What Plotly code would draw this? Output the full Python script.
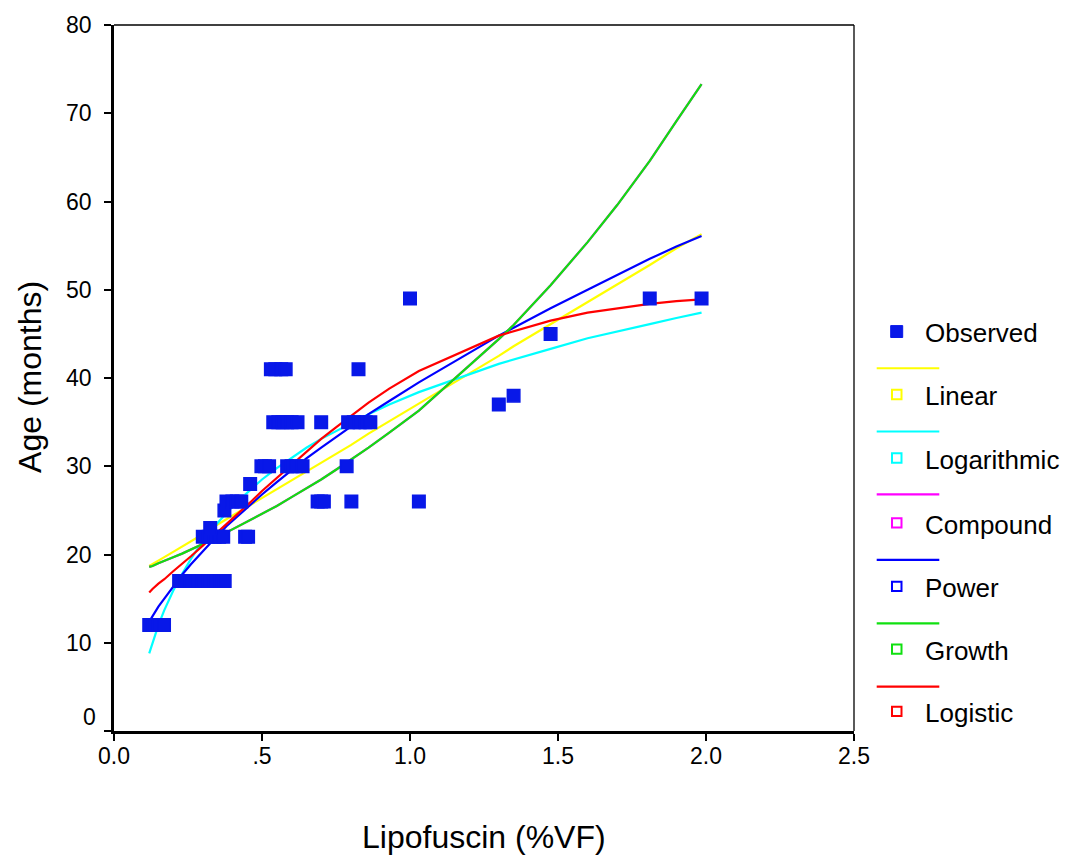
import plotly.graph_objects as go

# ---------------- data ----------------
obs_x = [0.119, 0.135, 0.152, 0.169,
         0.22, 0.24, 0.26, 0.28, 0.30, 0.32, 0.34, 0.36, 0.374,
         0.30, 0.32, 0.34, 0.355, 0.369, 0.443, 0.453,
         0.325,
         0.373,
         0.38, 0.40, 0.415, 0.43, 0.688, 0.70, 0.709, 0.802, 1.03,
         0.46,
         0.498, 0.51, 0.524, 0.585, 0.60, 0.615, 0.637, 0.786,
         0.538, 0.555, 0.57, 0.585, 0.60, 0.62, 0.70, 0.791, 0.81, 0.83, 0.85, 0.866,
         1.30,
         1.35,
         0.53, 0.545, 0.565, 0.58, 0.826,
         1.475,
         1.0, 1.81, 1.985]
obs_age = [12, 12, 12, 12,
           17, 17, 17, 17, 17, 17, 17, 17, 17,
           22, 22, 22, 22, 22, 22, 22,
           23,
           25,
           26, 26, 26, 26, 26, 26, 26, 26, 26,
           28,
           30, 30, 30, 30, 30, 30, 30, 30,
           35, 35, 35, 35, 35, 35, 35, 35, 35, 35, 35, 35,
           37,
           38,
           41, 41, 41, 41, 41,
           45,
           49, 49, 49]

fit_x = [0.119, 0.13, 0.15, 0.17, 0.2, 0.23, 0.26, 0.3, 0.34, 0.38, 0.42, 0.46,
         0.5, 0.55, 0.6, 0.65, 0.7, 0.75, 0.8, 0.86, 0.93, 1.0, 1.03, 1.3, 1.35,
         1.475, 1.6, 1.7, 1.81, 1.9, 1.985]
linear = [18.7, 18.9, 19.3, 19.7, 20.3, 20.9, 21.5, 22.3, 23.2, 24.0, 24.8, 25.6,
          26.4, 27.4, 28.4, 29.4, 30.4, 31.4, 32.4, 33.7, 35.1, 36.5, 37.1, 42.5, 43.6,
          46.1, 48.6, 50.6, 52.8, 54.7, 56.3]
logarithmic = [8.8, 10.0, 12.0, 13.7, 15.9, 17.8, 19.5, 21.5, 23.2, 24.7, 26.1, 27.3,
               28.5, 29.8, 31.0, 32.1, 33.1, 34.0, 34.9, 35.9, 37.0, 38.0, 38.4, 41.6, 42.1,
               43.3, 44.5, 45.3, 46.1, 46.8, 47.4]
compound = [18.6, 18.7, 19.0, 19.3, 19.7, 20.1, 20.6, 21.2, 21.8, 22.5, 23.2, 23.9,
            24.6, 25.5, 26.5, 27.5, 28.5, 29.6, 30.7, 32.1, 33.8, 35.5, 36.3, 44.4, 46.0,
            50.5, 55.4, 59.6, 64.6, 69.1, 73.3]
power = [12.4, 13.0, 14.1, 15.0, 16.4, 17.7, 18.9, 20.4, 21.8, 23.2, 24.4, 25.7,
         26.8, 28.2, 29.6, 30.9, 32.1, 33.3, 34.5, 35.9, 37.4, 38.9, 39.5, 44.8, 45.7,
         47.9, 50.0, 51.7, 53.5, 54.9, 56.1]
growth = [18.6, 18.7, 19.0, 19.3, 19.7, 20.1, 20.6, 21.2, 21.8, 22.5, 23.2, 23.9,
          24.6, 25.5, 26.5, 27.5, 28.5, 29.6, 30.7, 32.1, 33.8, 35.5, 36.3, 44.4, 46.0,
          50.5, 55.4, 59.6, 64.6, 69.1, 73.3]
logistic = [15.7, 16.1, 16.7, 17.2, 18.1, 18.9, 19.8, 21.0, 22.2, 23.5, 24.7, 25.9,
            27.2, 28.7, 30.2, 31.7, 33.1, 34.4, 35.7, 37.2, 38.8, 40.2, 40.8, 44.8, 45.3,
            46.5, 47.4, 47.9, 48.4, 48.7, 48.9]

x_tickvals = [0.0, 0.5, 1.0, 1.5, 2.0, 2.5]
x_ticktext = ["0.0", ".5", "1.0", "1.5", "2.0", "2.5"]
y_tickvals = [0, 10, 20, 30, 40, 50, 60, 70, 80]

series_names = ["Linear", "Logarithmic", "Compound", "Power", "Growth", "Logistic"]
series_values = [linear, logarithmic, compound, power, growth, logistic]
series_colors = ["#ffff00", "#00ffff", "#ff00ff", "#0000ff", "#10e010", "#ff0000"]

FONT = "Liberation Sans, Arial, Helvetica, sans-serif"
W, H = 1067, 855
L, R, T, B = 114, 854, 19.5, 730.7  # plot area in pixels

def px2x(p):
    return (p - L) / (R - L)

def py2y(p):
    return (B - p) / (B - T)

fig = go.Figure()

for name, vals, col in zip(series_names, series_values, series_colors):
    fig.add_trace(go.Scatter(x=fit_x, y=vals, mode="lines", name=name,
                             line=dict(color=col, width=2.2), showlegend=False,
                             hoverinfo="skip"))

fig.add_trace(go.Scatter(x=obs_x, y=obs_age, mode="markers", name="Observed",
                         marker=dict(symbol="square", size=12.5, color="#0818e8",
                                     line=dict(color="#0818e8", width=1.5)),
                         showlegend=False))

shapes = []
annotations = []

# frame: top and right thin lines
shapes.append(dict(type="line", xref="paper", yref="paper", x0=0, x1=1, y0=1, y1=1,
                   line=dict(color="black", width=1.3)))
shapes.append(dict(type="line", xref="paper", yref="paper", x0=1, x1=1, y0=0, y1=1,
                   line=dict(color="black", width=1.3)))

# custom SPSS-style legend
lx_text = 923
annotations.append(dict(xref="paper", yref="paper", x=px2x(lx_text), y=py2y(329.5),
                        text="Observed", showarrow=False, xanchor="left", yanchor="middle",
                        font=dict(family=FONT, size=26, color="black")))
shapes.append(dict(type="rect", xref="paper", yref="paper",
                   x0=px2x(890.7), x1=px2x(902.7), y0=py2y(334.3), y1=py2y(322.3),
                   fillcolor="#0818e8", line=dict(color="#0818e8", width=1)))
line_y = [365.3, 429, 492.3, 558.3, 622.3, 686]
sq_y = [391.7, 455.7, 521, 585, 648.3, 711]
for name, col, ly, sy in zip(series_names, series_colors, line_y, sq_y):
    shapes.append(dict(type="line", xref="paper", yref="paper",
                       x0=px2x(876.7), x1=px2x(939.3), y0=py2y(ly), y1=py2y(ly),
                       line=dict(color=col, width=2.2)))
    shapes.append(dict(type="rect", xref="paper", yref="paper",
                       x0=px2x(892), x1=px2x(901.5), y0=py2y(sy + 4.7), y1=py2y(sy - 4.7),
                       fillcolor="white", line=dict(color=col, width=2)))
    annotations.append(dict(xref="paper", yref="paper", x=px2x(lx_text), y=py2y(sy + 1.8),
                            text=name, showarrow=False, xanchor="left", yanchor="middle",
                            font=dict(family=FONT, size=26, color="black")))

# raised "0" y tick label (as in the reference)
annotations.append(dict(xref="paper", yref="paper", x=px2x(97.5), y=py2y(716.7),
                        text="0", showarrow=False, xanchor="right", yanchor="middle",
                        font=dict(family=FONT, size=23, color="black")))

# axis titles
annotations.append(dict(xref="paper", yref="paper", x=px2x(484), y=py2y(837),
                        text="Lipofuscin (%VF)", showarrow=False, xanchor="center",
                        yanchor="middle", font=dict(family=FONT, size=32, color="black")))
annotations.append(dict(xref="paper", yref="paper", x=px2x(30), y=py2y(374),
                        text="Age (months)", showarrow=False, xanchor="center",
                        yanchor="middle", textangle=-90,
                        font=dict(family=FONT, size=32, color="black")))

fig.update_layout(
    width=W, height=H,
    margin=dict(l=L, r=W - R, t=T, b=H - B, pad=0),
    paper_bgcolor="white", plot_bgcolor="white",
    font=dict(family=FONT, color="black"),
    showlegend=False,
    shapes=shapes,
    annotations=annotations,
    xaxis=dict(range=[0, 2.5], tickvals=x_tickvals, ticktext=x_ticktext,
               showgrid=False, zeroline=False, showline=True, linecolor="black",
               linewidth=2.5, ticks="outside", ticklen=7, tickwidth=2, tickcolor="black",
               tickfont=dict(family=FONT, size=23, color="black"),
               ticklabelstandoff=-4),
    yaxis=dict(range=[0, 80], tickvals=y_tickvals,
               ticktext=["", "10", "20", "30", "40", "50", "60", "70", "80"],
               showgrid=False, zeroline=False, showline=True, linecolor="black",
               linewidth=2.5, ticks="outside", ticklen=7, tickwidth=2, tickcolor="black",
               tickfont=dict(family=FONT, size=23, color="black"),
               ticklabelstandoff=8),
)

fig.write_html("out.html")
